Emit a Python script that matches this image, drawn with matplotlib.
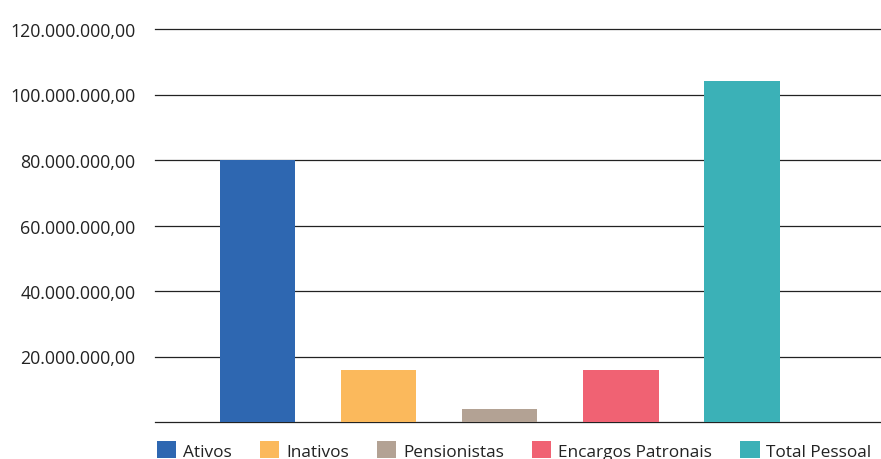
import matplotlib.pyplot as plt
from matplotlib.patches import Patch
from matplotlib.ticker import FuncFormatter

categorias = ['Ativos', 'Inativos', 'Pensionistas', 'Encargos Patronais', 'Total Pessoal']
valores = [80000000, 16000000, 4000000, 16000000, 104000000]
cores = ['#2E67B1', '#FBB95C', '#B3A294', '#F06273', '#3BB1B7']
yticks = [0, 20000000, 40000000, 60000000, 80000000, 100000000, 120000000]

plt.rcParams['font.family'] = ['Open Sans', 'DejaVu Sans']

fig = plt.figure(figsize=(8.81, 4.60), dpi=100)
ax = fig.add_axes([155/881, 1 - 423/460, 725/881, (423 - 30)/460])

x = list(range(len(categorias)))
ax.bar(x, valores, width=0.62, color=cores, zorder=3)

# grid lines like the scanned chart
for v in yticks:
    ax.axhline(v, color='#222222', lw=0.9, zorder=2, clip_on=False)

def fmt(v, pos):
    if v == 0:
        return ''
    s = f'{int(v):,}'.replace(',', '.')
    return s + ',00'

ax.set_yticks(yticks)
ax.yaxis.set_major_formatter(FuncFormatter(fmt))
ax.tick_params(axis='y', length=0, pad=14, labelsize=12.8, labelcolor='#222222')
ax.set_xticks([])
ax.set_ylim(0, 120000000)
ax.set_xlim(-0.85, 5.14)
for s in ax.spines.values():
    s.set_visible(False)

handles = [Patch(facecolor=c, edgecolor='none') for c in cores]
fig.legend(handles, categorias, loc='lower left', bbox_to_anchor=(141/881, -0.035),
           ncol=5, frameon=False, fontsize=12.4, handlelength=1.15, handleheight=1.15,
           handletextpad=0.4, columnspacing=1.6, labelcolor='#222222')

fig.savefig('out.png', dpi=100)
